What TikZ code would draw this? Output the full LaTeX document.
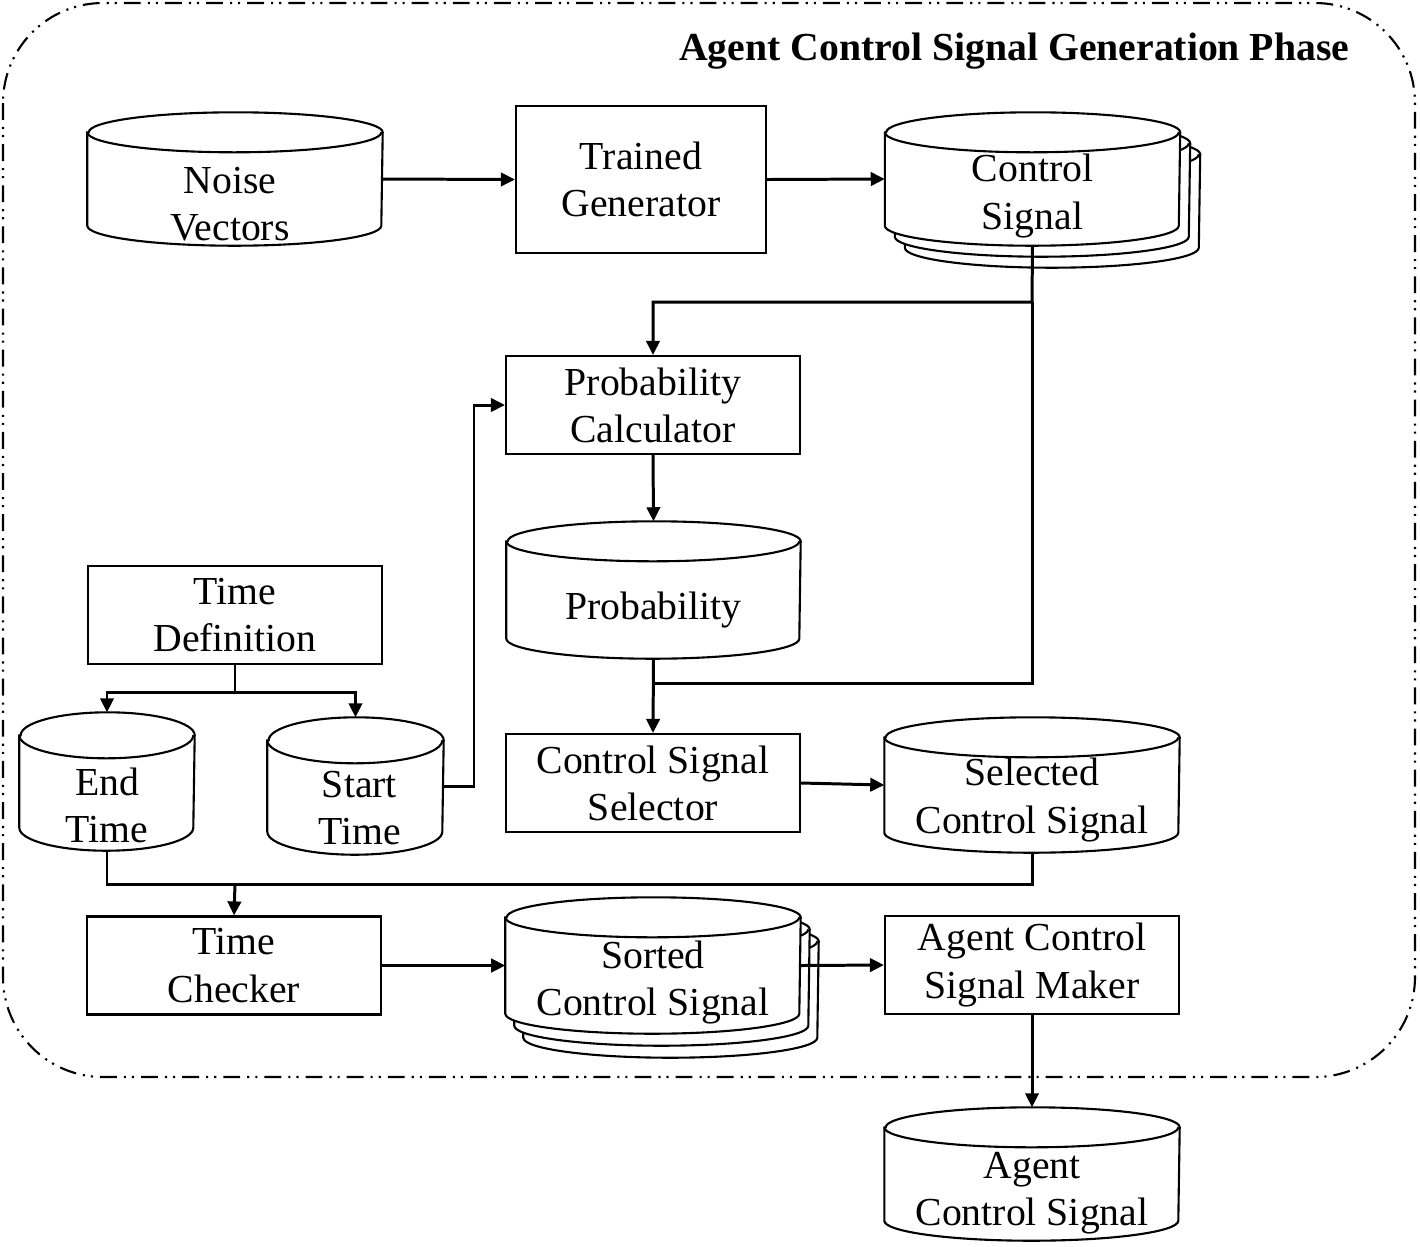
\documentclass[tikz,border=0pt]{standalone}
\usepackage{fontspec}
\setmainfont{Liberation Serif}
\usetikzlibrary{arrows.meta}

% cylindre : nom du noeud, rayon x, rayon y
\newcommand{\dbdraw}[3]{%
  \draw[dbline, fill=white] ([yshift=-#3]#1.north west) -- ([yshift=#3]#1.south west)
    arc[start angle=180, end angle=360, x radius=#2, y radius=#3]
    -- ([yshift=-#3]#1.north east)
    arc[start angle=0, end angle=180, x radius=#2, y radius=#3] -- cycle;
  \draw[dbline] ([yshift=-#3]#1.north west) arc[start angle=180, end angle=360, x radius=#2, y radius=#3];
}

\begin{document}
\begin{tikzpicture}[
    every node/.style={font=\fontsize{11.3}{13.4}\selectfont},
    >={Triangle[length=4pt,width=3.8pt]},
    box/.style={rectangle, draw, line width=0.6pt, align=center, minimum width=2.94cm, minimum height=0.98cm, inner sep=0pt},
    db/.style={rectangle, minimum width=2.94cm, minimum height=1.32cm, inner sep=0pt},
    dbline/.style={line width=0.6pt},
    txt/.style={align=center, inner sep=0pt},
    link/.style={line width=0.85pt},
    frame/.style={line width=0.6pt, rounded corners=1cm, dash pattern=on 4.8pt off 2pt on 0.6pt off 1.7pt on 0.6pt off 2pt}
]
\useasboundingbox (0,0) rectangle (14.2,-12.46);

% Cadre de la phase
\draw[frame] (0.03,-0.03) rectangle (14.15,-10.77);
\node[anchor=east, inner sep=0pt, font=\fontsize{11.3}{13.4}\selectfont\bfseries] (title) at (13.5,-0.51) {Agent Control Signal Generation Phase};

% Ligne du haut
\node[db] (noise) at (2.35,-1.79) {};
\dbdraw{noise}{1.47cm}{0.2cm}
\node[txt] (noiset) at ([xshift=-0.05cm, yshift=-0.25cm]noise.center) {Noise\\Vectors};
\node[box, minimum width=2.5cm, minimum height=1.47cm] (gen) at (6.41,-1.795) {Trained\\Generator};
\node[db] (cs2) at (10.525,-2.01) {};
\dbdraw{cs2}{1.47cm}{0.2cm}
\node[db] (cs1) at (10.425,-1.90) {};
\dbdraw{cs1}{1.47cm}{0.2cm}
\node[db] (cs) at (10.325,-1.79) {};
\dbdraw{cs}{1.47cm}{0.2cm}
\node[txt] (cst) at ([yshift=-0.17cm]cs.center) {Control\\Signal};

% Colonne du milieu
\node[box] (pcalc) at (6.53,-4.05) {Probability\\Calculator};
\node[db, minimum width=2.93cm, minimum height=1.36cm] (prob) at (6.535,-5.90) {};
\dbdraw{prob}{1.465cm}{0.2cm}
\node[txt] (probt) at ([yshift=-0.2cm]prob.center) {Probability};
\node[box] (sel) at (6.53,-7.83) {Control Signal\\Selector};
\node[db, minimum height=1.34cm] (selcs) at (10.32,-7.85) {};
\dbdraw{selcs}{1.47cm}{0.2cm}
\node[txt] (selcst) at ([yshift=-0.15cm]selcs.center) {Selected\\Control Signal};

% Temps
\node[box] (tdef) at (2.35,-6.15) {Time\\Definition};
\node[db, minimum width=1.74cm, minimum height=1.37cm] (endt) at (1.07,-7.815) {};
\dbdraw{endt}{0.87cm}{0.23cm}
\node[txt] (endtt) at ([yshift=-0.24cm]endt.center) {End\\Time};
\node[db, minimum width=1.75cm, minimum height=1.36cm] (startt) at (3.555,-7.86) {};
\dbdraw{startt}{0.875cm}{0.23cm}
\node[txt] (starttt) at ([xshift=0.04cm, yshift=-0.22cm]startt.center) {Start\\Time};

% Ligne du bas
\node[box] (tchk) at (2.34,-9.655) {Time\\Checker};
\node[db, minimum height=1.35cm] (sorted2) at (6.71,-9.895) {};
\dbdraw{sorted2}{1.47cm}{0.2cm}
\node[db, minimum height=1.35cm] (sorted1) at (6.62,-9.775) {};
\dbdraw{sorted1}{1.47cm}{0.2cm}
\node[db, minimum height=1.35cm] (sorted) at (6.53,-9.655) {};
\dbdraw{sorted}{1.47cm}{0.2cm}
\node[txt] (sortedt) at ([yshift=-0.17cm]sorted.center) {Sorted\\Control Signal};
\node[box] (maker) at (10.32,-9.65) {Agent Control\\Signal Maker};
\node[db] (agent) at (10.32,-11.74) {};
\dbdraw{agent}{1.47cm}{0.2cm}
\node[txt] (agentt) at ([yshift=-0.19cm]agent.center) {Agent\\Control Signal};

% Points de jonction
\coordinate (j1) at (10.32,-3.02);
\coordinate (j2) at (6.53,-6.83);
\coordinate (j3) at (2.35,-6.92);
\coordinate (j4) at (4.74,-4.05);
\coordinate (j5) at (2.35,-8.84);

% Flèches
\draw[link,->] (noise.east) -- (gen.west);
\draw[link,->] (gen.east) -- (cs.west);
\draw[link,->] (cs.south) -- (j1) -| (pcalc.north);
\draw[link] (j1) |- (j2);
\draw[link,->] (pcalc.south) -- (prob.north);
\draw[link,->] (prob.south) -- (sel.north);
\draw[link] (tdef.south) -- (j3);
\draw[link,->] (j3) -| (endt.north);
\draw[link,->] (j3) -| (startt.north);
\draw[link,->] (startt.east) -| (j4) -- (pcalc.west);
\draw[link] (endt.south) |- (j5) -| (selcs.south);
\draw[link,->] (j5) -- (tchk.north);
\draw[link,->] (sel.east) -- (selcs.west);
\draw[link,->] (tchk.east) -- (sorted.west);
\draw[link,->] (sorted.east) -- (maker.west);
\draw[link,->] (maker.south) -- (agent.north);

\end{tikzpicture}
\end{document}
